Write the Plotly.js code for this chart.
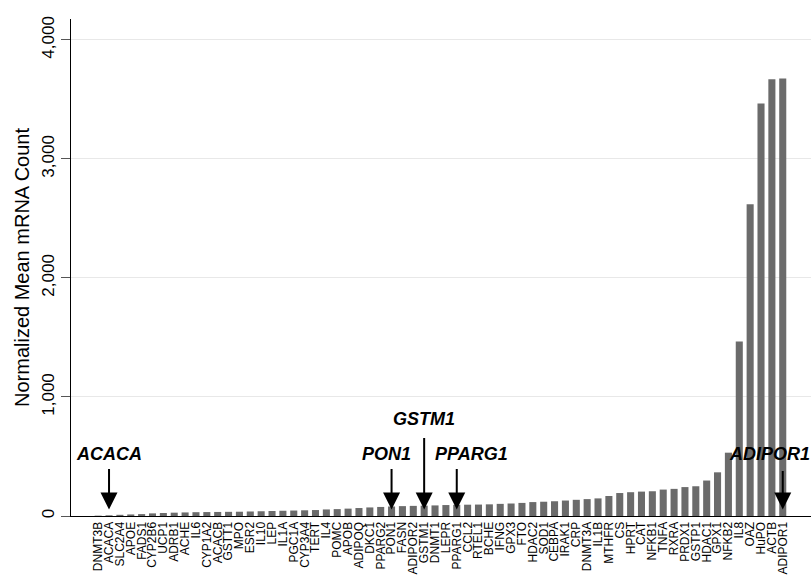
<!DOCTYPE html>
<html>
<head>
<meta charset="utf-8">
<script src="https://cdn.plot.ly/plotly-3.0.1.min.js"></script>
<style>html,body{margin:0;padding:0;background:#fff;}#chart{width:811px;height:575px;}</style>
</head>
<body>
<div id="chart"></div>
<script>
const genes = ["DNMT3B","ACACA","SLC2A4","APOE","FADS1","CYP2B6","UCP1","ADRB1","ACHE","IL6",
  "CYP1A2","ACACB","GSTT1","MPO","ESR2","IL10","LEP","IL1A","PGC1A","CYP3A4",
  "TERT","IL4","POMC","APOB","ADIPOQ","DKC1","PPARG2","PON1","FASN","ADIPOR2",
  "GSTM1","DNMT1","LEPR","PPARG1","CCL2","RTEL1","BCHE","IFNG","GPX3","FTO",
  "HDAC2","SOD1","CEBPA","IRAK1","CRP","DNMT3A","IL1B","MTHFR","CS","HPRT",
  "CAT","NFKB1","TNFA","RXRA","PRDX1","GSTP1","HDAC1","GPX1","NFKB2","IL8",
  "OAZ","HuPO","ACTB","ADIPOR1"];
const counts = [3,6,10,13,16,22,25,28,30,32,
  33,34,35,36,38,40,42,44,46,48,
  50,55,58,62,67,72,76,80,83,85,
  87,89,92,94,95,96,98,102,105,110,
  117,120,124,130,136,142,148,168,193,200,
  205,208,222,228,243,250,298,367,532,1466,
  2620,3467,3669,3677];
const yTicks = [0,1000,2000,3000,4000];
const yTickText = ["0","1,000","2,000","3,000","4,000"];

// highlighted genes: label, label y, arrow tail y, label x offset (in category units)
const marked = ["ACACA","PON1","GSTM1","PPARG1","ADIPOR1"];
const markLabelY = [525, 525, 811, 525, 525];
const markTailY = [408, 408, 668, 408, 391];
const markLabelDx = [0, -0.5, 0, 1.4, -1.2];
const tipY = 55;

const idx = genes.map((g,i)=>i);

const trace = {
  type: 'bar', x: idx, y: counts,
  marker: {color: '#6b6b6b', line: {width: 0}},
  width: 0.65, hoverinfo: 'skip'
};

const annotations = [];
marked.forEach((g,k)=>{
  const i = genes.indexOf(g);
  annotations.push({
    x: i, y: tipY, xref: 'x', yref: 'y',
    ax: i, ay: markTailY[k], axref: 'x', ayref: 'y',
    text: '', showarrow: true, arrowhead: 2, arrowsize: 1.7, arrowwidth: 2,
    arrowcolor: '#000', standoff: 0, startstandoff: 0
  });
  annotations.push({
    x: i + markLabelDx[k], y: markLabelY[k], xref: 'x', yref: 'y',
    text: '<b><i>' + g + '</i></b>', showarrow: false,
    font: {family: 'Liberation Sans, Arial, sans-serif', size: 18, color: '#000'},
    xanchor: 'center', yanchor: 'middle'
  });
});

const layout = {
  width: 811, height: 575,
  margin: {l: 71, r: 0, t: 19, b: 59},
  paper_bgcolor: '#fff', plot_bgcolor: '#fff',
  showlegend: false,
  bargap: 0.35,
  font: {family: 'Liberation Sans, Arial, sans-serif', color: '#000'},
  xaxis: {
    range: [-2.5, 65.6], tickmode: 'array', tickvals: idx, ticktext: genes,
    tickangle: -90, tickfont: {size: 12, color: '#000'},
    showgrid: false, zeroline: false, showline: true, linecolor: '#000', linewidth: 1,
    ticks: '', automargin: false, fixedrange: true
  },
  yaxis: {
    range: [0, 4176], tickmode: 'array', tickvals: yTicks, ticktext: yTickText,
    tickangle: -90, tickfont: {size: 17, color: '#000'},
    ticks: 'outside', ticklen: 9, tickcolor: '#555', tickwidth: 1,
    showgrid: true, gridcolor: '#e8e8e8', gridwidth: 1,
    zeroline: false, showline: true, linecolor: '#000', linewidth: 1,
    title: {text: 'Normalized Mean mRNA Count', font: {size: 20, color: '#000'}, standoff: 4},
    automargin: false, fixedrange: true
  },
  annotations: annotations
};

Plotly.newPlot('chart', [trace], layout, {displayModeBar: false, staticPlot: true});
</script>
</body>
</html>
